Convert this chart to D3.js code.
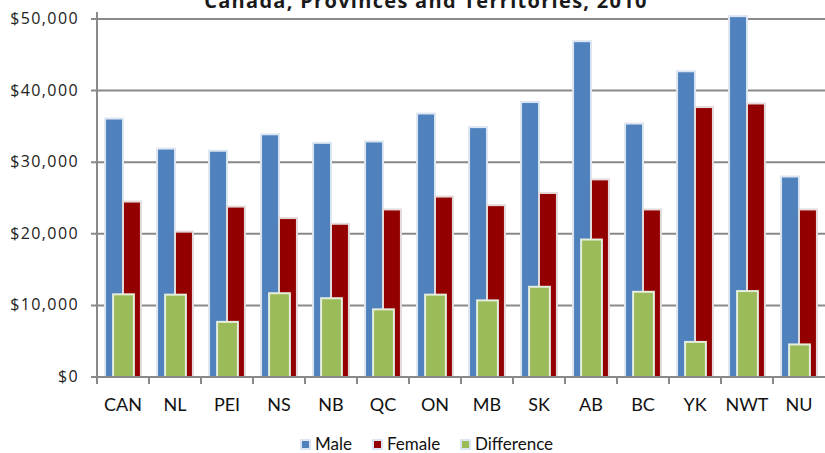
<!DOCTYPE html>
<html>
<head>
<meta charset="utf-8">
<script src="https://cdn.jsdelivr.net/npm/d3@7"></script>
<style>
  body { margin: 0; background: #fff; }
  svg { display: block; font-family: Lato, "Open Sans", sans-serif; }
</style>
</head>
<body>
<svg id="chart" width="825" height="453"></svg>
<script>
// data
const regions = ["CAN", "NL", "PEI", "NS", "NB", "QC", "ON", "MB", "SK", "AB", "BC", "YK", "NWT", "NU"]
const male   = [36100, 31900, 31600, 33900, 32700, 32900, 36800, 34900, 38400, 46900, 35400, 42700, 50400, 28000]
const female = [24500, 20300, 23800, 22200, 21400, 23400, 25200, 24000, 25700, 27600, 23400, 37700, 38200, 23400]
const diff   = [11550, 11500, 7700, 11700, 11000, 9450, 11500, 10700, 12600, 19200, 11900, 4900, 12000, 4550]
const yTicks = [0, 10000, 20000, 30000, 40000, 50000]
const seriesNames = ["Male", "Female", "Difference"]
const colors = ["#4f81bd", "#920000", "#9bbb59"]

const svg = d3.select("#chart")
const plotLeft = 97, plotRight = 825, plotTop = 19, plotBottom = 377

const x = d3.scaleBand().domain(regions).range([plotLeft, plotRight]).padding(0)
const sub = d3.scaleBand().domain(["Male", "Female"]).range([0, x.bandwidth()]).paddingInner(0).paddingOuter(0.45)
const y = d3.scaleLinear().domain([0, 50000]).range([plotBottom, plotTop])

// title (cut off at the top, as in the source)
svg.append("text")
  .attr("x", 426).attr("y", 8)
  .attr("text-anchor", "middle")
  .style("font-family", "'Open Sans', sans-serif")
  .style("font-size", "20px").style("font-weight", "bold").style("fill", "#1a1a1a")
  .style("letter-spacing", "1.3px")
  .text("Canada, Provinces and Territories, 2010")

// gridlines
svg.append("g").selectAll("line").data(yTicks.slice(1)).join("line")
  .attr("x1", plotLeft - 6).attr("x2", plotRight)
  .attr("y1", d => y(d)).attr("y2", d => y(d))
  .attr("stroke", "#898989").attr("stroke-width", 2)

// y tick labels
svg.append("g").selectAll("text").data(yTicks).join("text")
  .attr("x", 79).attr("y", d => y(d) + 5)
  .attr("text-anchor", "end")
  .style("font-family", "'Open Sans', sans-serif")
  .style("font-size", "16px").style("fill", "#222")
  .style("letter-spacing", "1.4px")
  .text(d => d3.format("$,")(d))

const group = svg.append("g").selectAll("g").data(regions).join("g")
  .attr("transform", d => `translate(${x(d)},0)`)

group.append("rect")
  .attr("x", sub("Male")).attr("width", sub.bandwidth())
  .attr("y", (d, i) => y(male[i])).attr("height", (d, i) => plotBottom - y(male[i]))
  .attr("fill", colors[0]).attr("stroke", "#dce6f2").attr("stroke-width", 2)

group.append("rect")
  .attr("x", sub("Female")).attr("width", sub.bandwidth())
  .attr("y", (d, i) => y(female[i])).attr("height", (d, i) => plotBottom - y(female[i]))
  .attr("fill", colors[1]).attr("stroke", "#e4dada").attr("stroke-width", 2)

const gw = x.bandwidth() * 0.4
group.append("rect")
  .attr("x", x.bandwidth() / 2 - gw / 2 + 0.5).attr("width", gw)
  .attr("y", (d, i) => y(diff[i])).attr("height", (d, i) => plotBottom - y(diff[i]))
  .attr("fill", colors[2]).attr("stroke", "#e6eedd").attr("stroke-width", 2)

// axes lines
svg.append("line").attr("x1", plotLeft).attr("x2", plotLeft).attr("y1", 12).attr("y2", plotBottom + 7)
  .attr("stroke", "#898989").attr("stroke-width", 2)
svg.append("line").attr("x1", plotLeft - 6).attr("x2", plotRight).attr("y1", plotBottom).attr("y2", plotBottom)
  .attr("stroke", "#898989").attr("stroke-width", 2)

// x ticks
svg.append("g").selectAll("line").data(regions.slice(1)).join("line")
  .attr("x1", d => x(d)).attr("x2", d => x(d))
  .attr("y1", plotBottom).attr("y2", plotBottom + 7)
  .attr("stroke", "#898989").attr("stroke-width", 2)

// x labels
svg.append("g").selectAll("text").data(regions).join("text")
  .attr("x", d => x(d) + x.bandwidth() / 2).attr("y", 411)
  .attr("text-anchor", "middle")
  .style("font-size", "18px").style("fill", "#111")
  .text(d => d)

// legend
const legendX = [300, 372, 460]
const legend = svg.append("g").selectAll("g").data(seriesNames).join("g")
  .attr("transform", (d, i) => `translate(${legendX[i]},439)`)
legend.append("rect").attr("width", 11).attr("height", 11)
  .attr("fill", "#dce6f2")
legend.append("rect").attr("x", 2).attr("y", 2).attr("width", 7).attr("height", 7)
  .attr("fill", (d, i) => colors[i])
legend.append("text").attr("x", 15).attr("y", 11)
  .style("font-size", "17px").style("fill", "#111")
  .text(d => d)
</script>
</body>
</html>
